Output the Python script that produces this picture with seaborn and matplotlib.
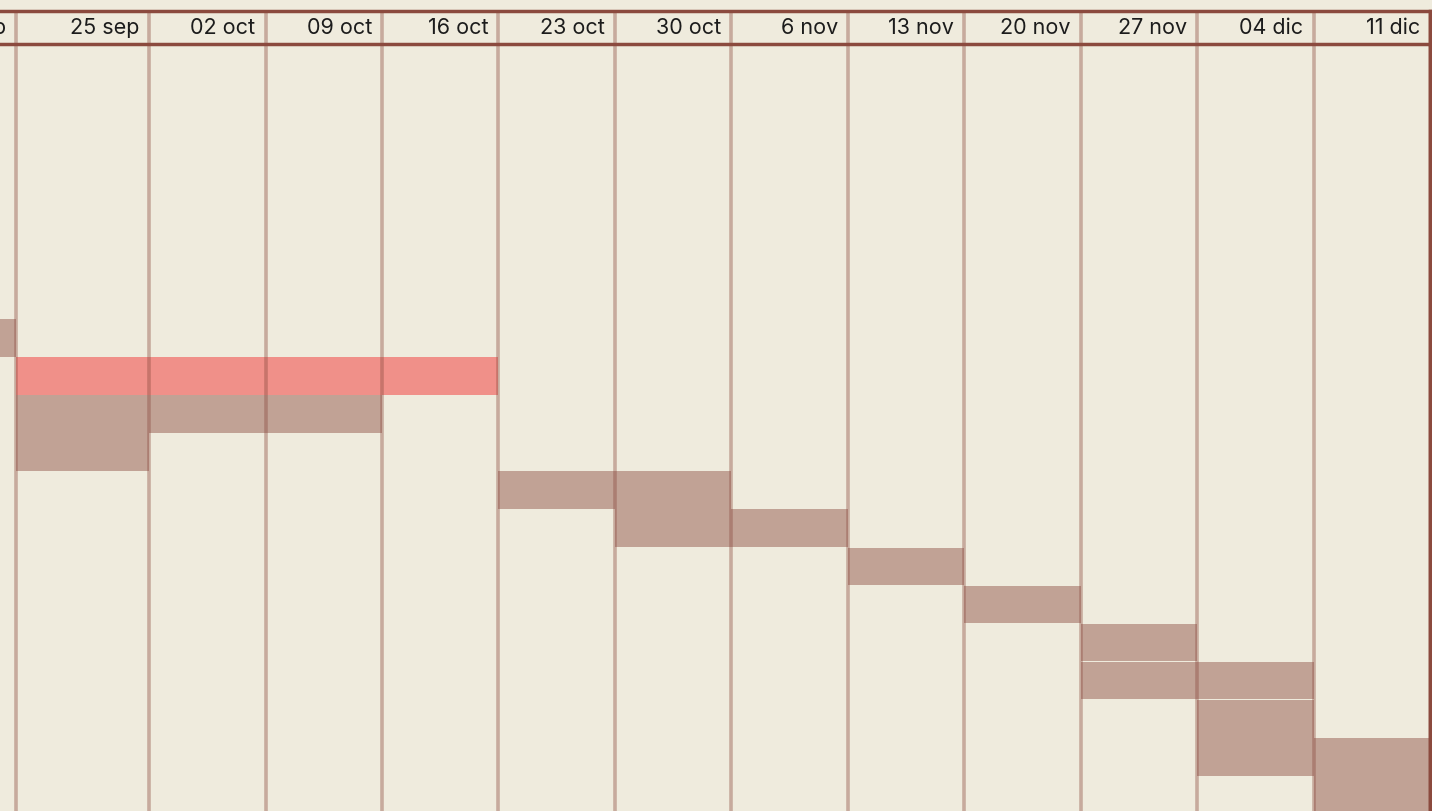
import matplotlib
matplotlib.use("Agg")
import numpy as np
import pandas as pd
import matplotlib.pyplot as plt
import matplotlib.dates as mdates
import seaborn as sns

# Week columns (edges) and header labels
COL_EDGES = ["2023-09-17", "2023-09-24", "2023-10-02", "2023-10-09", "2023-10-16",
             "2023-10-23", "2023-10-30", "2023-11-06", "2023-11-13", "2023-11-20",
             "2023-11-27", "2023-12-04", "2023-12-11", "2023-12-18"]
COL_LABELS = ["18 sep", "25 sep", "02 oct", "09 oct", "16 oct", "23 oct", "30 oct",
              "6 nov", "13 nov", "20 nov", "27 nov", "04 dic", "11 dic"]

# Tasks: row index, start, end, kind
TASK_ROWS = [7, 8, 9, 10, 11, 12, 13, 14, 15, 16, 17, 18, 19]
TASK_START = ["2023-09-17", "2023-09-24", "2023-09-24", "2023-09-24", "2023-10-23",
              "2023-10-30", "2023-11-13", "2023-11-20", "2023-11-27", "2023-11-27",
              "2023-12-04", "2023-12-04", "2023-12-11"]
TASK_END = ["2023-09-24", "2023-10-23", "2023-10-16", "2023-10-02", "2023-11-06",
            "2023-11-13", "2023-11-20", "2023-11-27", "2023-12-04", "2023-12-11",
            "2023-12-11", "2023-12-18", "2023-12-18"]
TASK_KIND = ["base", "highlight", "base", "base", "base", "base", "base", "base",
             "base", "base", "base", "base", "base"]

BG = "#efebdd"
DARK = "#8b4a3e"
COLORS = {"base": ("#8b4a3e", 0.45), "highlight": ("#f24a48", 0.56)}

sns.set_theme(style="white")
plt.rcParams["font.family"] = ["Inter", "DejaVu Sans"]

df = pd.DataFrame({"row": TASK_ROWS,
                   "start": pd.to_datetime(TASK_START),
                   "end": pd.to_datetime(TASK_END),
                   "kind": TASK_KIND})
edges = mdates.date2num(pd.to_datetime(COL_EDGES))

W, H = 1432, 811
fig = plt.figure(figsize=(W / 100, H / 100), dpi=100, facecolor=BG)

x_left = edges[1] - 0.96
x_right = edges[-1]
ax_w = 1430 / W

# main grid area
ax = fig.add_axes([0, 0, ax_w, (H - 44) / H])
ax.set_facecolor(BG)
for kind, sub in df.groupby("kind"):
    col, a = COLORS[kind]
    s = mdates.date2num(sub["start"])
    e = mdates.date2num(sub["end"])
    ax.barh(sub["row"], e - s, left=s, height=0.985, color=col, alpha=a,
            linewidth=0, zorder=2)
for x in edges:
    ax.axvline(x, color=DARK, alpha=0.4, lw=2.6, zorder=3)
ax.set_xlim(x_left, x_right)
ax.set_ylim(-0.5 + (811 - 52) / 38.1, -0.5 - 8 / 38.1)
ax.set_xticks([])
ax.set_yticks([])
for name, sp in ax.spines.items():
    sp.set_visible(name == "right")
ax.spines["right"].set_color(DARK)
ax.spines["right"].set_linewidth(2.5)

# header band
hx = fig.add_axes([0, (H - 44) / H, ax_w, 33 / H])
hx.set_facecolor(BG)
hx.set_xlim(x_left, x_right)
hx.set_ylim(0, 1)
for x in edges:
    hx.axvline(x, color=DARK, alpha=0.4, lw=2.6)
for lab, x_end in zip(COL_LABELS, edges[1:]):
    hx.text(x_end - 0.6, 0.47, lab, ha="right", va="center", fontsize=15.5,
            color="#1c1c1c")
hx.set_xticks([])
hx.set_yticks([])
for name, sp in hx.spines.items():
    sp.set_visible(name != "left")
    sp.set_color(DARK)
    sp.set_linewidth(2.5)

fig.savefig("out.png", dpi=100, facecolor=BG)
